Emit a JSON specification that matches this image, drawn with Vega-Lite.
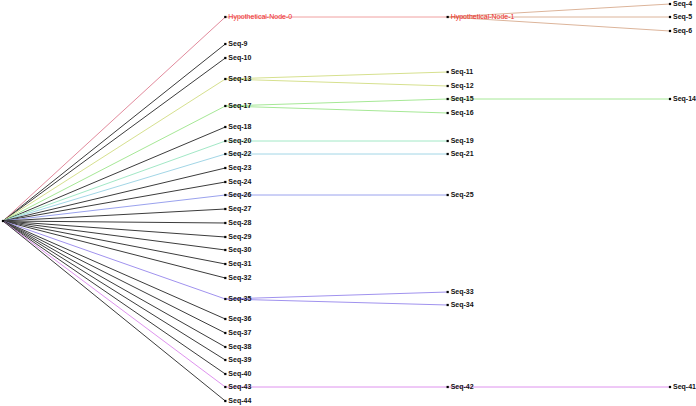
{
  "$schema": "https://vega.github.io/schema/vega-lite/v6.json",
  "width": 696,
  "height": 406,
  "autosize": {"type": "fit", "contains": "padding"},
  "padding": 0,
  "background": "white",
  "config": {"view": {"stroke": null}},
  "datasets": {
    "nodes": [
      {"name": "root", "depth": 0, "pos": 221, "kind": "root"},
      {"name": "Hypothetical-Node-0", "depth": 1, "pos": 17, "kind": "internal"},
      {"name": "Seq-9", "depth": 1, "pos": 44, "kind": "leaf"},
      {"name": "Seq-10", "depth": 1, "pos": 58, "kind": "leaf"},
      {"name": "Seq-13", "depth": 1, "pos": 79, "kind": "leaf"},
      {"name": "Seq-17", "depth": 1, "pos": 106, "kind": "leaf"},
      {"name": "Seq-18", "depth": 1, "pos": 127, "kind": "leaf"},
      {"name": "Seq-20", "depth": 1, "pos": 141, "kind": "leaf"},
      {"name": "Seq-22", "depth": 1, "pos": 154, "kind": "leaf"},
      {"name": "Seq-23", "depth": 1, "pos": 168, "kind": "leaf"},
      {"name": "Seq-24", "depth": 1, "pos": 182, "kind": "leaf"},
      {"name": "Seq-26", "depth": 1, "pos": 195, "kind": "leaf"},
      {"name": "Seq-27", "depth": 1, "pos": 209, "kind": "leaf"},
      {"name": "Seq-28", "depth": 1, "pos": 223, "kind": "leaf"},
      {"name": "Seq-29", "depth": 1, "pos": 237, "kind": "leaf"},
      {"name": "Seq-30", "depth": 1, "pos": 250, "kind": "leaf"},
      {"name": "Seq-31", "depth": 1, "pos": 264, "kind": "leaf"},
      {"name": "Seq-32", "depth": 1, "pos": 278, "kind": "leaf"},
      {"name": "Seq-35", "depth": 1, "pos": 299, "kind": "leaf"},
      {"name": "Seq-36", "depth": 1, "pos": 319, "kind": "leaf"},
      {"name": "Seq-37", "depth": 1, "pos": 333, "kind": "leaf"},
      {"name": "Seq-38", "depth": 1, "pos": 347, "kind": "leaf"},
      {"name": "Seq-39", "depth": 1, "pos": 360, "kind": "leaf"},
      {"name": "Seq-40", "depth": 1, "pos": 374, "kind": "leaf"},
      {"name": "Seq-43", "depth": 1, "pos": 387, "kind": "leaf"},
      {"name": "Seq-44", "depth": 1, "pos": 401, "kind": "leaf"},
      {"name": "Hypothetical-Node-1", "depth": 2, "pos": 17, "kind": "internal"},
      {"name": "Seq-11", "depth": 2, "pos": 72, "kind": "leaf"},
      {"name": "Seq-12", "depth": 2, "pos": 86, "kind": "leaf"},
      {"name": "Seq-15", "depth": 2, "pos": 99, "kind": "leaf"},
      {"name": "Seq-16", "depth": 2, "pos": 113, "kind": "leaf"},
      {"name": "Seq-19", "depth": 2, "pos": 141, "kind": "leaf"},
      {"name": "Seq-21", "depth": 2, "pos": 154, "kind": "leaf"},
      {"name": "Seq-25", "depth": 2, "pos": 195, "kind": "leaf"},
      {"name": "Seq-33", "depth": 2, "pos": 292, "kind": "leaf"},
      {"name": "Seq-34", "depth": 2, "pos": 305, "kind": "leaf"},
      {"name": "Seq-42", "depth": 2, "pos": 387, "kind": "leaf"},
      {"name": "Seq-4", "depth": 3, "pos": 4, "kind": "leaf"},
      {"name": "Seq-5", "depth": 3, "pos": 17, "kind": "leaf"},
      {"name": "Seq-6", "depth": 3, "pos": 31, "kind": "leaf"},
      {"name": "Seq-14", "depth": 3, "pos": 99, "kind": "leaf"},
      {"name": "Seq-41", "depth": 3, "pos": 387, "kind": "leaf"}
    ],
    "edges": [
      {"parent": "root", "child": "Hypothetical-Node-0", "clade": "A0"},
      {"parent": "Hypothetical-Node-0", "child": "Hypothetical-Node-1", "clade": "A1"},
      {"parent": "Hypothetical-Node-1", "child": "Seq-4", "clade": "A2"},
      {"parent": "Hypothetical-Node-1", "child": "Seq-5", "clade": "A2"},
      {"parent": "Hypothetical-Node-1", "child": "Seq-6", "clade": "A2"},
      {"parent": "root", "child": "Seq-9", "clade": "leaf"},
      {"parent": "root", "child": "Seq-10", "clade": "leaf"},
      {"parent": "root", "child": "Seq-13", "clade": "B"},
      {"parent": "Seq-13", "child": "Seq-11", "clade": "B"},
      {"parent": "Seq-13", "child": "Seq-12", "clade": "B"},
      {"parent": "root", "child": "Seq-17", "clade": "C"},
      {"parent": "Seq-17", "child": "Seq-15", "clade": "C"},
      {"parent": "Seq-17", "child": "Seq-16", "clade": "C"},
      {"parent": "Seq-15", "child": "Seq-14", "clade": "C"},
      {"parent": "root", "child": "Seq-18", "clade": "leaf"},
      {"parent": "root", "child": "Seq-20", "clade": "D"},
      {"parent": "Seq-20", "child": "Seq-19", "clade": "D"},
      {"parent": "root", "child": "Seq-22", "clade": "E"},
      {"parent": "Seq-22", "child": "Seq-21", "clade": "E"},
      {"parent": "root", "child": "Seq-23", "clade": "leaf"},
      {"parent": "root", "child": "Seq-24", "clade": "leaf"},
      {"parent": "root", "child": "Seq-26", "clade": "F"},
      {"parent": "Seq-26", "child": "Seq-25", "clade": "F"},
      {"parent": "root", "child": "Seq-27", "clade": "leaf"},
      {"parent": "root", "child": "Seq-28", "clade": "leaf"},
      {"parent": "root", "child": "Seq-29", "clade": "leaf"},
      {"parent": "root", "child": "Seq-30", "clade": "leaf"},
      {"parent": "root", "child": "Seq-31", "clade": "leaf"},
      {"parent": "root", "child": "Seq-32", "clade": "leaf"},
      {"parent": "root", "child": "Seq-35", "clade": "G"},
      {"parent": "Seq-35", "child": "Seq-33", "clade": "G"},
      {"parent": "Seq-35", "child": "Seq-34", "clade": "G"},
      {"parent": "root", "child": "Seq-36", "clade": "leaf"},
      {"parent": "root", "child": "Seq-37", "clade": "leaf"},
      {"parent": "root", "child": "Seq-38", "clade": "leaf"},
      {"parent": "root", "child": "Seq-39", "clade": "leaf"},
      {"parent": "root", "child": "Seq-40", "clade": "leaf"},
      {"parent": "root", "child": "Seq-43", "clade": "H"},
      {"parent": "Seq-43", "child": "Seq-42", "clade": "H"},
      {"parent": "Seq-42", "child": "Seq-41", "clade": "H"},
      {"parent": "root", "child": "Seq-44", "clade": "leaf"}
    ]
  },
  "layer": [
    {
      "data": {"name": "edges"},
      "transform": [
        {"lookup": "parent", "from": {"data": {"name": "nodes"}, "key": "name", "fields": ["depth", "pos"]}, "as": ["d0", "p0"]},
        {"lookup": "child", "from": {"data": {"name": "nodes"}, "key": "name", "fields": ["depth", "pos"]}, "as": ["d1", "p1"]}
      ],
      "mark": {"type": "rule", "strokeWidth": 1},
      "encoding": {
        "x": {"field": "d0", "type": "quantitative", "scale": {"domain": [0, 3], "range": [3, 670]}, "axis": null},
        "x2": {"field": "d1"},
        "y": {"field": "p0", "type": "quantitative", "scale": {"domain": [0, 406], "range": [0, 406]}, "axis": null},
        "y2": {"field": "p1"},
        "color": {
          "field": "clade", "type": "nominal", "legend": null,
          "scale": {
            "domain": ["A0", "A1", "A2", "leaf", "B", "C", "D", "E", "F", "G", "H"],
            "range": ["#e28a9c", "#f0a0a0", "#dcb49a", "#3c3c3c", "#d6e08e", "#a6e896", "#a2e8c6", "#a2d6e6", "#9aa2ee", "#a092ee", "#de92ee"]
          }
        }
      }
    },
    {
      "data": {"name": "nodes"},
      "mark": {"type": "square", "size": 5, "color": "black", "opacity": 1},
      "encoding": {
        "x": {"field": "depth", "type": "quantitative", "scale": {"domain": [0, 3], "range": [3, 670]}, "axis": null},
        "y": {"field": "pos", "type": "quantitative", "scale": {"domain": [0, 406], "range": [0, 406]}, "axis": null}
      }
    },
    {
      "data": {"name": "nodes"},
      "transform": [{"filter": "datum.kind === 'leaf'"}],
      "mark": {"type": "text", "align": "left", "baseline": "middle", "dx": 3, "font": "Liberation Sans", "fontSize": 7, "fontWeight": "bold", "color": "#111111"},
      "encoding": {
        "x": {"field": "depth", "type": "quantitative", "scale": {"domain": [0, 3], "range": [3, 670]}, "axis": null},
        "y": {"field": "pos", "type": "quantitative", "scale": {"domain": [0, 406], "range": [0, 406]}, "axis": null},
        "text": {"field": "name"}
      }
    },
    {
      "data": {"name": "nodes"},
      "transform": [{"filter": "datum.kind === 'internal'"}],
      "mark": {"type": "text", "align": "left", "baseline": "middle", "dx": 3, "font": "Liberation Sans", "fontSize": 7, "color": "#ee2a2a"},
      "encoding": {
        "x": {"field": "depth", "type": "quantitative", "scale": {"domain": [0, 3], "range": [3, 670]}, "axis": null},
        "y": {"field": "pos", "type": "quantitative", "scale": {"domain": [0, 406], "range": [0, 406]}, "axis": null},
        "text": {"field": "name"}
      }
    }
  ]
}
